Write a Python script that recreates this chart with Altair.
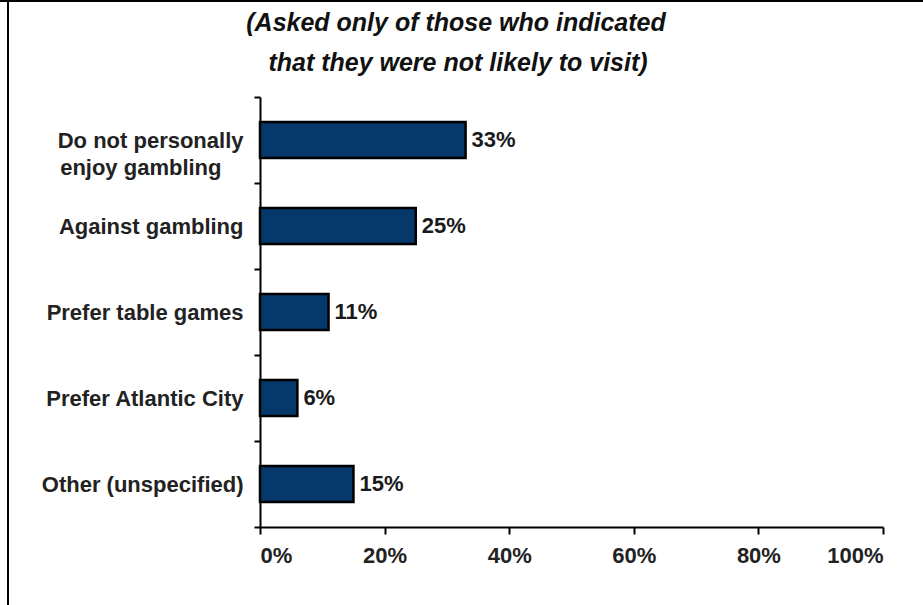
import altair as alt
import pandas as pd

categories = [
    "Do not personally enjoy gambling",
    "Against gambling",
    "Prefer table games",
    "Prefer Atlantic City",
    "Other (unspecified)",
]
values = [33, 25, 11, 6, 15]
x_ticks = [0, 20, 40, 60, 80, 100]
title_lines = ["(Asked only of those who indicated", "that they were not likely to visit)"]

df = pd.DataFrame({"reason": categories, "pct": values})
df["label"] = df["pct"].astype(str) + "%"

FONT = "Liberation Sans, Arial, sans-serif"
PADTAIL = "\u2003\u200b"

y_enc = alt.Y(
    "reason:N",
    sort=categories,
    scale=alt.Scale(paddingInner=0, paddingOuter=0),
    axis=alt.Axis(
        title=None,
        domainColor="black",
        domainWidth=2,
        tickColor="black",
        tickWidth=2,
        tickSize=6,
        tickBand="extent",
        labelFont=FONT,
        labelFontSize=22,
        labelFontWeight="bold",
        labelColor="#222222",
        labelPadding=11,
        labelLimit=300,
        labelLineHeight=27,
        labelExpr=(
            "datum.value == 'Do not personally enjoy gambling' ? "
            "['Do not personally', 'enjoy gambling" + PADTAIL + "'] : datum.value"
        ),
    ),
)

x_enc = alt.X(
    "pct:Q",
    scale=alt.Scale(domain=[0, 100], nice=False),
    axis=alt.Axis(
        title=None,
        values=x_ticks,
        grid=False,
        domainColor="black",
        domainWidth=2,
        tickColor="black",
        tickWidth=2,
        tickSize=7,
        labelFont=FONT,
        labelFontSize=22,
        labelFontWeight="bold",
        labelColor="#222222",
        labelPadding=11,
        labelExpr="datum.value + '%'",
    ),
)

base = alt.Chart(df)

bars = base.mark_bar(
    color="#06396B", stroke="black", strokeWidth=2.5, size=36
).encode(x=x_enc, y=y_enc)

texts = base.mark_text(
    align="left", baseline="middle", dx=6, font=FONT, fontSize=22,
    fontWeight="bold", color="#1a1a1a"
).encode(x="pct:Q", y=alt.Y("reason:N", sort=categories), text="label:N")

title_df = pd.DataFrame({"line": title_lines, "row": [0, 1]})
title1 = alt.Chart(title_df.iloc[[0]]).mark_text(
    font=FONT, fontSize=25, fontWeight="bold", fontStyle="italic",
    color="#111111", align="center", baseline="middle"
).encode(text="line:N", x=alt.value(196), y=alt.value(-74))
title2 = alt.Chart(title_df.iloc[[1]]).mark_text(
    font=FONT, fontSize=25, fontWeight="bold", fontStyle="italic",
    color="#111111", align="center", baseline="middle"
).encode(text="line:N", x=alt.value(198), y=alt.value(-34))

frame_top = alt.Chart(title_df.iloc[[0]]).mark_rule(color="black", strokeWidth=2).encode(
    x=alt.value(-260), x2=alt.value(663), y=alt.value(-96)
)
frame_left = alt.Chart(title_df.iloc[[0]]).mark_rule(color="black", strokeWidth=2).encode(
    x=alt.value(-252), y=alt.value(-97), y2=alt.value(508)
)

chart = alt.layer(bars, texts, title1, title2, frame_top, frame_left).properties(
    width=623,
    height=430,
    autosize=alt.AutoSizeParams(type="none"),
    padding={"left": 260, "top": 97, "right": 40, "bottom": 78},
    background="white",
).configure_view(stroke=None)

chart.save("out.html", embed_options={"renderer": "svg", "actions": False})
